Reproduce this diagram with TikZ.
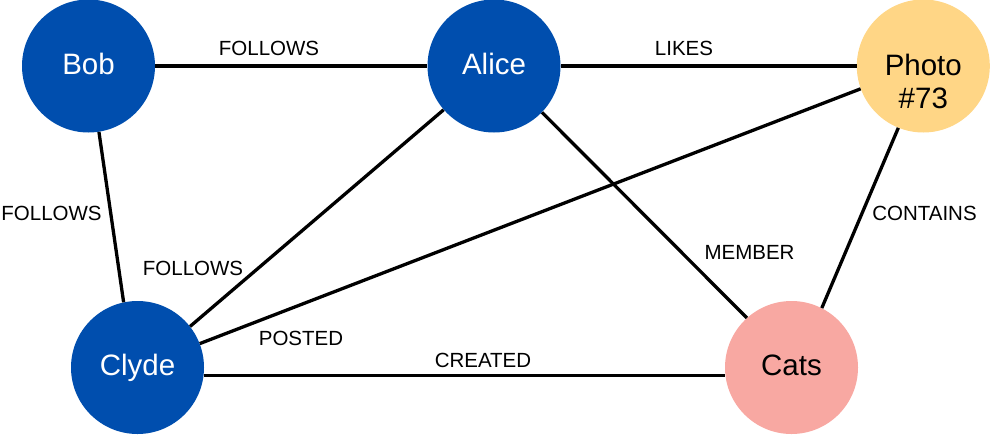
\documentclass[tikz,border=0pt]{standalone}
\usepackage{fontspec}
\setmainfont{Liberation Sans}
\definecolor{nodeblue}{RGB}{0,78,174}
\definecolor{photoyellow}{RGB}{255,214,134}
\definecolor{catspink}{RGB}{248,168,162}
\begin{document}
\begin{tikzpicture}[x=1pt,y=-1pt,
  vertex/.style={circle,minimum size=133pt,inner sep=0pt,
    font=\fontsize{29.5}{33}\selectfont,text height=21pt,text depth=5pt},
  bluevertex/.style={vertex,fill=nodeblue,text=white},
  edge/.style={line width=3.3pt,black},
  elabel/.style={anchor=base,inner sep=0pt,font=\fontsize{20.5}{24}\selectfont}]
\useasboundingbox (0,0) rectangle (990,434);
\node[bluevertex] (bob) at (88.5,66) {Bob};
\node[bluevertex] (alice) at (494,66) {Alice};
\node[vertex,fill=photoyellow] (photo) at (923.3,66) {};
\node[align=center,inner sep=0pt,font=\fontsize{29.5}{33}\selectfont] (phototext) at (923.3,81) {Photo\\\#73};
\node[bluevertex] (clyde) at (137.5,367.5) {Clyde};
\node[vertex,fill=catspink] (cats) at (791.5,367.5) {Cats};
\draw[edge] (bob.east) -- (alice.west);
\draw[edge] (alice.east) -- (photo.west);
\draw[edge] (bob.-81.9) -- (clyde.102.5);
\draw[edge] (alice.221.5) -- (clyde.38);
\draw[edge] (photo.200.5) -- (clyde.21.2);
\draw[edge] (alice.-44.6) -- (cats.132.8);
\draw[edge] (photo.-112.3) -- (cats.63.6);
\draw[edge] (clyde.-7.3) -- (cats.187.3);
\node[elabel] (l1) at (269,55) {FOLLOWS};
\node[elabel] (l2) at (684,55) {LIKES};
\node[elabel] (l3) at (51.5,220.7) {FOLLOWS};
\node[elabel] (l4) at (193,275) {FOLLOWS};
\node[elabel] (l5) at (301,345.7) {POSTED};
\node[elabel] (l6) at (483,367.7) {CREATED};
\node[elabel] (l7) at (749.5,259) {MEMBER};
\node[elabel] (l8) at (924.5,220.7) {CONTAINS};
\end{tikzpicture}
\end{document}
